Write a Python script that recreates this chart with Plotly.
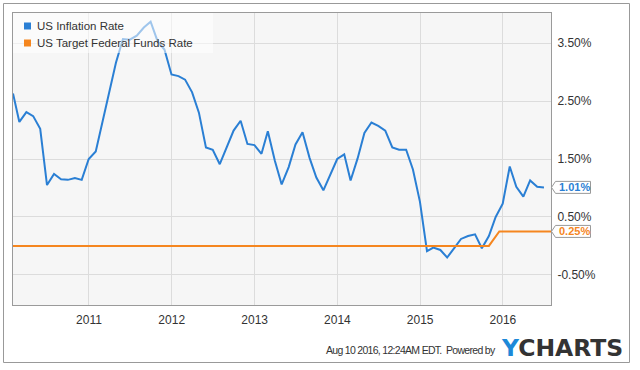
import pandas as pd
import plotly.graph_objects as go

# ---- data ----
infl_start = "2010-01-31"
inflation = [
    2.63, 2.14, 2.31, 2.24, 2.02, 1.05, 1.24, 1.15, 1.14, 1.17, 1.14, 1.50,
    1.63, 2.11, 2.68, 3.16, 3.57, 3.56, 3.63, 3.77, 3.87, 3.53, 3.39, 2.96,
    2.93, 2.87, 2.65, 2.30, 1.70, 1.66, 1.41, 1.69, 1.99, 2.16, 1.76, 1.74,
    1.59, 1.98, 1.47, 1.06, 1.36, 1.75, 1.96, 1.52, 1.18, 0.96, 1.24, 1.50,
    1.58, 1.13, 1.51, 1.95, 2.13, 2.07, 1.99, 1.70, 1.66, 1.66, 1.32, 0.76,
    -0.09, -0.03, -0.07, -0.20, -0.04, 0.12, 0.17, 0.20, -0.04, 0.17, 0.50, 0.73,
    1.37, 1.02, 0.85, 1.13, 1.02, 1.01,
]
infl_dates = pd.date_range(infl_start, periods=len(inflation), freq="ME")

fed_dates = ["2010-01-31", "2015-10-31", "2015-12-16", "2016-07-31"]
fed_rate = [0.0, 0.0, 0.25, 0.25]

series_names = ["US Inflation Rate", "US Target Federal Funds Rate"]
y_ticks = [-0.5, 0.5, 1.5, 2.5, 3.5]
x_range = ["2010-01-31", "2016-07-31"]
footer_text = "Aug 10 2016, 12:24AM EDT.  Powered by"

BLUE = "#2a7fd4"
ORANGE = "#f5861f"
FONT = "Liberation Sans, Arial, sans-serif"

fig = go.Figure()
fig.add_trace(go.Scatter(x=infl_dates, y=inflation, mode="lines",
                         line=dict(color=BLUE, width=2), name=series_names[0],
                         showlegend=False))
fig.add_trace(go.Scatter(x=fed_dates, y=fed_rate, mode="lines",
                         line=dict(color=ORANGE, width=2), name=series_names[1],
                         showlegend=False))

shapes = []
# legend whitening panel
shapes.append(dict(type="rect", xref="paper", yref="paper", xsizemode="pixel", ysizemode="pixel",
                   xanchor=0, yanchor=1, x0=0, x1=200, y0=0, y1=-40,
                   fillcolor="rgba(255,255,255,0.55)", line=dict(width=0), layer="above"))
annotations = []
for i, (nm, col) in enumerate(zip(series_names, [BLUE, ORANGE])):
    cy = -13 - 17 * i
    shapes.append(dict(type="rect", xref="paper", yref="paper", xsizemode="pixel", ysizemode="pixel",
                       xanchor=0, yanchor=1, x0=11, x1=18, y0=cy + 3.5, y1=cy - 3.5,
                       fillcolor=col, line=dict(width=0), layer="above"))
    annotations.append(dict(text=nm, xref="paper", yref="paper", x=0, y=1, xshift=22, yshift=cy,
                            xanchor="left", yanchor="middle", showarrow=False,
                            font=dict(family=FONT, size=11.5, color="#333")))

# value flags
for vals, col in [(inflation, BLUE), (fed_rate, ORANGE)]:
    last = vals[-1]
    shapes.append(dict(type="path", xref="paper", yref="y", xsizemode="pixel", ysizemode="pixel",
                       xanchor=1, yanchor=last,
                       path="M 0.5,0 L 4.5,6 L 39.5,6 L 39.5,-6 L 4.5,-6 Z",
                       fillcolor="white", line=dict(color="#999", width=1), layer="above"))
    annotations.append(dict(text="<b>%.2f%%</b>" % last, xref="paper", yref="y", x=1, y=last,
                            xshift=6, xanchor="left", yanchor="middle", showarrow=False,
                            font=dict(family=FONT, size=11, color=col)))

# outer frame
shapes.append(dict(type="rect", xref="paper", yref="paper",
                   x0=(3.5 - 13) / 538, x1=(629.5 - 13) / 538,
                   y0=(305 - 362.5) / 292, y1=(305 - 3.5) / 292,
                   line=dict(color="#999", width=1), fillcolor="rgba(0,0,0,0)", layer="above"))

annotations.append(dict(text="<span style='letter-spacing:-0.7px'>" + footer_text + "</span>",
                        xref="paper", yref="paper",
                        x=(498 - 13) / 538, y=(305 - 350) / 292, xanchor="right", yanchor="middle",
                        showarrow=False,
                        font=dict(family=FONT, size=10.5, color="#333")))
annotations.append(dict(text="<b><span style='color:#1d89d8'>Y</span>CHARTS</b>", xref="paper", yref="paper",
                        x=(499 - 13) / 538, y=(305 - 348) / 292, xanchor="left", yanchor="middle",
                        showarrow=False,
                        font=dict(family="DejaVu Sans, Arial", size=23.5, color="#333")))

fig.update_layout(
    width=640, height=370,
    margin=dict(l=13, r=89, t=13, b=65),
    paper_bgcolor="white", plot_bgcolor="#f6f6f6",
    showlegend=False,
    font=dict(family=FONT, size=12, color="#333"),
    shapes=shapes, annotations=annotations,
    xaxis=dict(type="date", range=x_range, dtick="M12", tick0="2011-01-01", tickformat="%Y",
               showgrid=True, gridcolor="#dcdcdc", gridwidth=1,
               showline=True, linecolor="#9a9a9a", linewidth=1, mirror=True,
               ticks="outside", ticklen=4, tickcolor="rgba(0,0,0,0)",
               tickfont=dict(size=12, color="#333"), zeroline=False),
    yaxis=dict(side="right", range=[-1.02, 4.02], tickvals=y_ticks,
               ticktext=["%.2f%%" % v for v in y_ticks],
               showgrid=True, gridcolor="#dcdcdc", gridwidth=1,
               showline=True, linecolor="#9a9a9a", linewidth=1, mirror=True,
               ticks="outside", ticklen=3, tickcolor="rgba(0,0,0,0)",
               tickfont=dict(size=12, color="#333"), zeroline=False),
)

fig.write_html("out.html", config={"displayModeBar": False},
               post_script="document.body.style.margin='0';")
